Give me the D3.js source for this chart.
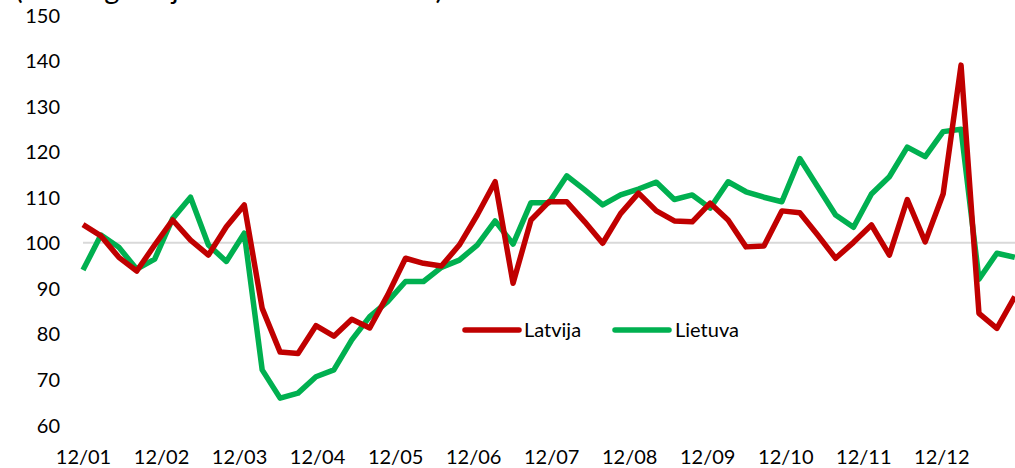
<!DOCTYPE html>
<html>
<head>
<meta charset="utf-8">
<script src="https://cdn.jsdelivr.net/npm/d3@7"></script>
<style>
  html, body { margin: 0; padding: 0; background: #fff; overflow: hidden; }
  svg { display: block; }
  text { font-family: "Lato", "Open Sans", sans-serif; fill: #000; }
</style>
</head>
<body>
<svg id="chart" width="1015" height="468"></svg>
<script>
// ---- data ----
const seriesNames = ["Latvija", "Lietuva"];
const latvija = [104, 101.5, 96.8, 93.8, 99.5, 105, 100.6, 97.3, 103.5, 108.3,
  85.6, 76.0, 75.7, 81.8, 79.5, 83.2, 81.3, 88.5, 96.6, 95.5,
  94.9, 99.5, 106.1, 113.4, 91.1, 105.0, 109.0, 109.0, 104.6, 99.9,
  106.4, 110.9, 107.0, 104.8, 104.6, 108.7, 105.0, 99.1, 99.3, 107.0,
  106.6, 101.7, 96.6, 100.1, 103.9, 97.3, 109.5, 100.2, 110.7, 139.0,
  84.5, 81.2, 88.2];
const lietuva = [94.0, 101.7, 99.0, 94.2, 96.4, 105.3, 110.0, 99.5, 95.9, 102.1,
  72.1, 65.9, 67.0, 70.6, 72.1, 78.7, 83.8, 87.1, 91.5, 91.5,
  94.6, 96.2, 99.5, 104.8, 99.7, 108.8, 108.8, 114.7, 111.6, 108.3,
  110.5, 111.8, 113.3, 109.5, 110.5, 107.6, 113.4, 111.2, 110.0, 109.0,
  118.5, 112.3, 106.1, 103.4, 110.7, 114.5, 121.0, 118.9, 124.4, 124.9,
  92.0, 97.7, 96.8];
const tickLabels = ["12/01", "12/02", "12/03", "12/04", "12/05", "12/06",
  "12/07", "12/08", "12/09", "12/10", "12/11", "12/12"];
const yTicks = [60, 70, 80, 90, 100, 110, 120, 130, 140, 150];
const titleText = "(2005. gada janvāris = 100 – reāli)";

// ---- layout ----
const svg = d3.select("#chart");
const plotLeft = 83, plotRight = 1014.8, plotTop = 15, plotBottom = 425;
const labelSpanPoints = 47.9; // point index where the last label sits

const x = d3.scaleLinear().domain([0, latvija.length - 1]).range([plotLeft, plotRight]);
const xLab = d3.scaleLinear().domain([0, tickLabels.length - 1]).range([x(0), x(labelSpanPoints)]);
const y = d3.scaleLinear().domain([60, 150]).range([plotBottom, plotTop]);

// title (mostly cut off above the view)
svg.append("text")
  .attr("x", 15).attr("y", -1)
  .style("font-size", "29px")
  .text(titleText);

// gridline at 100
svg.append("line")
  .attr("x1", plotLeft).attr("x2", 1015)
  .attr("y1", y(100)).attr("y2", y(100))
  .attr("stroke", "#d9d9d9").attr("stroke-width", 2);

// y axis
const yAxis = d3.axisLeft(y).tickValues(yTicks).tickSize(0).tickPadding(0);
const gy = svg.append("g").attr("transform", "translate(60,0)").call(yAxis);
gy.select(".domain").remove();
gy.selectAll("text").style("font-size", "20px").style("font-family", "Lato, sans-serif")
  .attr("fill", "#000").attr("dy", "0.35em");

// x axis
const xAxis = d3.axisBottom(xLab).tickValues(d3.range(tickLabels.length))
  .tickFormat(i => tickLabels[i]).tickSize(0).tickPadding(0);
const gx = svg.append("g").attr("transform", "translate(0,450)").call(xAxis);
gx.select(".domain").remove();
gx.selectAll("text").style("font-size", "20px").style("font-family", "Lato, sans-serif")
  .attr("fill", "#000").attr("dy", "0.72em");

// lines
const colors = { Latvija: "#C00000", Lietuva: "#00B050" };
const line = d3.line().x((d, i) => x(i)).y(d => y(d));

svg.append("path").datum(lietuva)
  .attr("d", line).attr("fill", "none")
  .attr("stroke", colors.Lietuva).attr("stroke-width", 5.5)
  .attr("stroke-linejoin", "round");
svg.append("path").datum(latvija)
  .attr("d", line).attr("fill", "none")
  .attr("stroke", colors.Latvija).attr("stroke-width", 5.5)
  .attr("stroke-linejoin", "round");

// legend
const legendItems = [
  { name: "Latvija", x1: 465, x2: 519, tx: 524 },
  { name: "Lietuva", x1: 615, x2: 669, tx: 675 }
];
const lg = svg.append("g");
legendItems.forEach(it => {
  lg.append("line").attr("x1", it.x1).attr("x2", it.x2)
    .attr("y1", 330).attr("y2", 330)
    .attr("stroke", colors[it.name]).attr("stroke-width", 5.5)
    .attr("stroke-linecap", "round");
  lg.append("text").attr("x", it.tx).attr("y", 337)
    .style("font-size", "20px").text(it.name);
});
</script>
</body>
</html>
